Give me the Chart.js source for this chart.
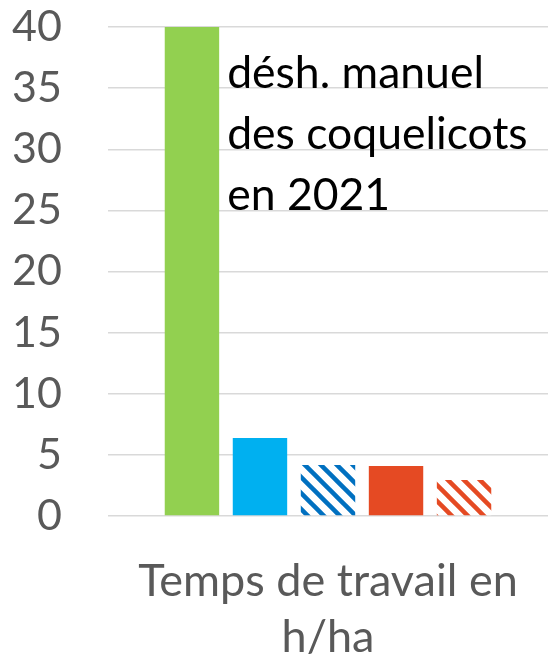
<!DOCTYPE html>
<html>
<head>
<meta charset="utf-8">
<script src="https://cdn.jsdelivr.net/npm/chart.js@4/dist/chart.umd.min.js"></script>
<style>
  html, body { margin: 0; padding: 0; background: #ffffff; }
  #wrap { width: 548px; height: 654px; position: relative; }
</style>
</head>
<body>
<div id="wrap"><canvas id="c"></canvas></div>
<script>
// ---- data ----
const categories = [["Temps de travail en", "h/ha"]];
const seriesNames = ["Série 1", "Série 2", "Série 3", "Série 4", "Série 5"];
const seriesValues = [[40], [6.38], [4.17], [4.09], [2.94]];
const yTicks = [0, 5, 10, 15, 20, 25, 30, 35, 40];
const annotationLines = ["désh. manuel", "des coquelicots", "en 2021"];
const annotationValues = [35, 30, 25];

// ---- styles ----
const GREEN = "#92D050", BLUE = "#00B0F0", DBLUE = "#0070C0", RED = "#E54A23";
function stripes(color) {
  const s = 16;
  const cv = document.createElement("canvas");
  cv.width = s; cv.height = s;
  const g = cv.getContext("2d");
  g.fillStyle = "#ffffff"; g.fillRect(0, 0, s, s);
  g.strokeStyle = color; g.lineWidth = 4.5; g.lineCap = "square";
  for (const off of [-s, 0, s]) {
    g.beginPath(); g.moveTo(off, 0); g.lineTo(off + s, s); g.stroke();
  }
  return g.createPattern(cv, "repeat");
}
const fills = [GREEN, BLUE, stripes(DBLUE), RED, stripes(RED)];

const FONT = "Lato, 'Liberation Sans', sans-serif";

const annotationPlugin = {
  id: "annot",
  afterDatasetsDraw(chart) {
    const meta = chart.getDatasetMeta(0);
    const bar = meta.data[0];
    const y = chart.scales.y;
    const ctx = chart.ctx;
    ctx.save();
    ctx.fillStyle = "#000000";
    ctx.font = "44.5px " + FONT;
    ctx.textAlign = "left";
    ctx.textBaseline = "alphabetic";
    const x0 = bar.x + bar.width / 2 + 8;
    annotationLines.forEach((t, i) => {
      ctx.fillText(t, x0, y.getPixelForValue(annotationValues[i]));
    });
    ctx.restore();
  }
};

new Chart(document.getElementById("c"), {
  type: "bar",
  data: {
    labels: categories,
    datasets: seriesNames.map((n, i) => ({
      label: n,
      data: seriesValues[i],
      backgroundColor: fills[i],
      borderWidth: 0,
      categoryPercentage: 0.773,
      barPercentage: 0.8
    }))
  },
  options: {
    responsive: true,
    maintainAspectRatio: false,
    animation: false,
    layout: { padding: { top: 27, right: 0, left: 0, bottom: 0 } },
    plugins: { legend: { display: false }, tooltip: { enabled: false } },
    scales: {
      x: {
        grid: { display: false },
        border: { display: false },
        ticks: {
          color: "#595959",
          font: { family: FONT, size: 45, lineHeight: 1.245 },
          padding: 29,
          maxRotation: 0
        },
        afterFit(s) { s.height = 138; s.paddingLeft = 0; s.paddingRight = 0; }
      },
      y: {
        min: 0, max: 40,
        afterBuildTicks(s) { s.ticks = yTicks.map(v => ({ value: v })); },
        grid: { color: "#D9D9D9", lineWidth: 1.5, drawTicks: false },
        border: { display: false },
        ticks: {
          color: "#595959",
          font: { family: FONT, size: 43 },
          padding: 46
        },
        afterFit(s) { s.width = 108; s.paddingTop = 0; s.paddingBottom = 0; }
      }
    }
  },
  plugins: [annotationPlugin]
});
</script>
</body>
</html>
